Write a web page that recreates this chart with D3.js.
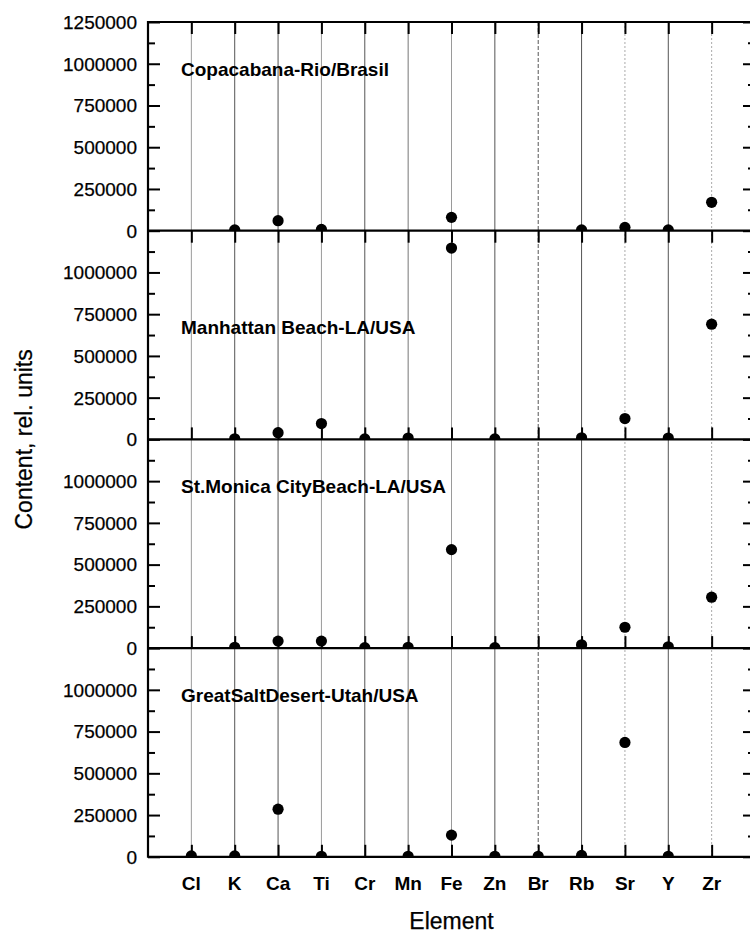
<!DOCTYPE html>
<html>
<head>
<meta charset="utf-8">
<script src="https://cdn.jsdelivr.net/npm/d3@7"></script>
<style>
  html, body { margin: 0; padding: 0; background: #fff; }
  svg { display: block; }
  text { font-family: "Liberation Sans", Arial, sans-serif; fill: #000; stroke: #000; stroke-width: 0.25px; }
</style>
</head>
<body>
<svg id="chart" width="750" height="933"></svg>
<script>
// ---------------- data ----------------
const elements = ["Cl", "K", "Ca", "Ti", "Cr", "Mn", "Fe", "Zn", "Br", "Rb", "Sr", "Y", "Zr"];
const sites = ["Copacabana-Rio/Brasil", "Manhattan Beach-LA/USA", "St.Monica CityBeach-LA/USA", "GreatSaltDesert-Utah/USA"];
const copacabana = [null, 5000, 60000, 8000, null, null, 80000, null, null, 5000, 20000, 5000, 170000];
const manhattan  = [null, 4000, 40000, 95000, 3000, 8000, 1146000, 3000, null, 10000, 125000, 8000, 690000];
const stMonica   = [null, 5000, 42000, 42000, 3000, 5000, 590000, 3000, null, 20000, 125000, 8000, 305000];
const greatSalt  = [5000, 5000, 285000, 3000, null, 3000, 130000, 3000, 3000, 8000, 685000, 3000, null];
const yTickValues = [0, 250000, 500000, 750000, 1000000, 1250000];
const yMinorValues = [125000, 375000, 625000, 875000, 1125000];
const xTitle = "Element";
const yTitle = "Content, rel. units";

const seriesList = [copacabana, manhattan, stMonica, greatSalt];

// ---------------- layout ----------------
const svg = d3.select("#chart");
const pLeft = 148, pRight = 755, pTop = 22, panelH = 208.7;
const nPanels = seriesList.length;
const pBottom = pTop + nPanels * panelH;

const x = d3.scaleLinear().domain([0, elements.length + 1]).range([pLeft, pRight]);
const ys = seriesList.map((s, i) =>
  d3.scaleLinear().domain([0, 1250000]).range([pTop + (i + 1) * panelH, pTop + i * panelH]));

// vertical grid lines through all panels
const gridStyle = {
  "Cl": ["#9a9a9a", null], "K": ["#555", null], "Ca": ["#555", null], "Ti": ["#9a9a9a", null],
  "Cr": ["#555", null], "Mn": ["#777", null], "Fe": ["#9a9a9a", null], "Zn": ["#555", null],
  "Br": ["#555", "4,2"], "Rb": ["#555", null], "Sr": ["#aaa", "2,2"], "Y": ["#555", null], "Zr": ["#aaa", "2,2"]
};
svg.append("g").selectAll("line").data(elements).join("line")
  .attr("x1", (d, i) => x(i + 1)).attr("x2", (d, i) => x(i + 1))
  .attr("y1", pTop).attr("y2", pBottom)
  .attr("stroke", d => gridStyle[d][0])
  .attr("stroke-width", 1)
  .attr("stroke-dasharray", d => gridStyle[d][1]);

// clip paths per panel & markers
const defs = svg.append("defs");
seriesList.forEach((series, i) => {
  const y = ys[i];
  defs.append("clipPath").attr("id", "clip" + i).append("rect")
    .attr("x", pLeft).attr("y", y.range()[1])
    .attr("width", pRight - pLeft).attr("height", panelH);
  const g = svg.append("g").attr("clip-path", `url(#clip${i})`);
  g.selectAll("circle").data(series.map((v, j) => ({ v, j })).filter(d => d.v !== null)).join("circle")
    .attr("cx", d => x(d.j + 1)).attr("cy", d => y(d.v))
    .attr("r", 5.6).attr("fill", "#000");
});

// y axes per panel (left labels + ticks inward; right ticks inward)
seriesList.forEach((series, i) => {
  const y = ys[i];
  const tickVals = i === 0 ? yTickValues : yTickValues.slice(0, -1);
  const gL = svg.append("g").attr("transform", `translate(${pLeft},0)`);
  gL.call(d3.axisRight(y).tickValues(tickVals).tickSize(12).tickFormat(""));
  gL.append("g").call(d3.axisRight(y).tickValues(yMinorValues).tickSize(7).tickFormat(""));
  gL.selectAll(".domain").remove();
  gL.selectAll("line").attr("stroke", "#000").attr("stroke-width", 2);
  svg.append("g").selectAll("text").data(tickVals).join("text")
    .attr("x", pLeft - 11).attr("y", d => y(d)).attr("dy", "0.36em")
    .attr("text-anchor", "end").attr("font-size", 19).text(d => d3.format("d")(d));

  const gR = svg.append("g").attr("transform", `translate(${pRight},0)`);
  gR.call(d3.axisLeft(y).tickValues(tickVals).tickSize(12).tickFormat(""));
  gR.append("g").call(d3.axisLeft(y).tickValues(yMinorValues).tickSize(7).tickFormat(""));
  gR.selectAll(".domain").remove();
  gR.selectAll("line").attr("stroke", "#000").attr("stroke-width", 2);

  // panel title
  const titleVal = [1000000, 700000, 1000000, 1000000][i];
  svg.append("text").attr("x", pLeft + 33).attr("y", y(titleVal) + 5)
    .attr("dy", "0.36em").attr("font-size", 19).attr("font-weight", "bold")
    .style("stroke-width", 0).text(sites[i]);
});

// horizontal x axes with category ticks
const idx = elements.map((d, i) => i + 1);
const tickDirs = [
  { y: pTop, dir: 1 },
  { y: pTop + panelH, dir: 1 },
  { y: pTop + 2 * panelH, dir: -1 },
  { y: pTop + 3 * panelH, dir: -1 },
  { y: pBottom, dir: -1 }
];
tickDirs.forEach(t => {
  const g = svg.append("g").attr("transform", `translate(0,${t.y})`);
  const ax = (t.dir > 0 ? d3.axisBottom(x) : d3.axisTop(x)).tickValues(idx).tickSize(12).tickFormat("").tickSizeOuter(0);
  g.call(ax);
  g.selectAll(".domain").remove();
  g.selectAll("line").attr("stroke", "#000").attr("stroke-width", 2);
  svg.append("line").attr("x1", pLeft).attr("x2", pRight).attr("y1", t.y).attr("y2", t.y)
    .attr("stroke", "#000").attr("stroke-width", 2.2);
});

// frame verticals
svg.append("line").attr("x1", pLeft).attr("x2", pLeft).attr("y1", pTop - 1).attr("y2", pBottom + 1)
  .attr("stroke", "#000").attr("stroke-width", 2.2);
svg.append("line").attr("x1", pRight).attr("x2", pRight).attr("y1", pTop - 1).attr("y2", pBottom + 1)
  .attr("stroke", "#000").attr("stroke-width", 2.2);

// category labels
svg.append("g").selectAll("text").data(elements).join("text")
  .attr("x", (d, i) => x(i + 1)).attr("y", pBottom + 26).attr("dy", "0.36em")
  .attr("text-anchor", "middle").attr("font-size", 19).attr("font-weight", "bold")
  .style("stroke-width", 0).text(d => d);

// axis titles
svg.append("text").attr("x", (pLeft + pRight) / 2).attr("y", 921).attr("dy", "0.36em")
  .attr("text-anchor", "middle").attr("font-size", 23).text(xTitle);
svg.append("text").attr("transform", `translate(24,${(pTop + pBottom) / 2}) rotate(-90)`)
  .attr("dy", "0.36em").attr("text-anchor", "middle").attr("font-size", 23).text(yTitle);
</script>
</body>
</html>
